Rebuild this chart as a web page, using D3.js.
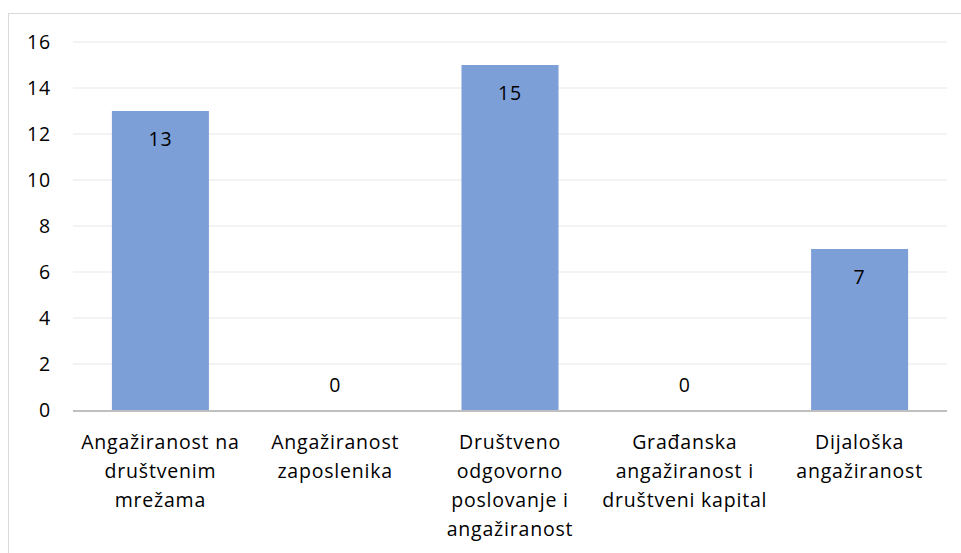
<!DOCTYPE html>
<html>
<head>
<meta charset="utf-8">
<script src="https://cdn.jsdelivr.net/npm/d3@7"></script>
<style>
  body { margin: 0; background: #fff; }
  text { font-family: "Open Sans", Lato, sans-serif; fill: #000; letter-spacing: 0.8px; }
</style>
</head>
<body>
<figure id="chart" style="margin:0"></figure>
<script>
let categories = [
    ['Angažiranost na', 'društvenim', 'mrežama'],
    ['Angažiranost', 'zaposlenika'],
    ['Društveno', 'odgovorno', 'poslovanje i', 'angažiranost'],
    ['Građanska', 'angažiranost i', 'društveni kapital'],
    ['Dijaloška', 'angažiranost']
];
let values = [13, 0, 15, 0, 7];
let yTicks = [0, 2, 4, 6, 8, 10, 12, 14, 16];

let widthFigure = 961;
let heightFigure = 553;
let plotLeft = 73, plotRight = 947, plotTop = 42, plotBottom = 410;

let svg = d3.select('#chart')
    .append('svg')
    .attr('width', widthFigure)
    .attr('height', heightFigure);

// chart frame
svg.append('rect')
    .attr('x', 8.5)
    .attr('y', 13.5)
    .attr('width', 960)
    .attr('height', 600)
    .attr('fill', 'none')
    .attr('stroke', '#d9d9d9')
    .attr('stroke-width', 1);

let xScale = d3.scaleBand()
    .domain(d3.range(categories.length))
    .range([plotLeft, plotRight])
    .paddingInner(0.445)
    .paddingOuter(0.2225);

let yScale = d3.scaleLinear()
    .domain([0, 16])
    .range([plotBottom, plotTop]);

// gridlines
svg.append('g')
    .selectAll('line')
    .data(yTicks.filter(d => d > 0))
    .enter()
    .append('line')
    .attr('x1', plotLeft)
    .attr('x2', plotRight)
    .attr('y1', d => yScale(d))
    .attr('y2', d => yScale(d))
    .attr('stroke', '#efefef')
    .attr('stroke-width', 1.5);

// y tick labels
svg.append('g')
    .selectAll('text')
    .data(yTicks)
    .enter()
    .append('text')
    .attr('x', 51)
    .attr('y', d => yScale(d))
    .attr('dy', '0.36em')
    .attr('text-anchor', 'end')
    .attr('font-size', 19.5)
    .text(d => d);

// bars
svg.append('g')
    .selectAll('rect')
    .data(values)
    .enter()
    .append('rect')
    .attr('x', (d, i) => xScale(i))
    .attr('y', d => yScale(d))
    .attr('width', xScale.bandwidth())
    .attr('height', d => plotBottom - yScale(d))
    .attr('fill', '#7c9fd8');

// x axis line
svg.append('line')
    .attr('x1', plotLeft)
    .attr('x2', plotRight)
    .attr('y1', plotBottom + 1)
    .attr('y2', plotBottom + 1)
    .attr('stroke', '#bfbfbf')
    .attr('stroke-width', 2);

// value labels
svg.append('g')
    .selectAll('text')
    .data(values)
    .enter()
    .append('text')
    .attr('x', (d, i) => xScale(i) + xScale.bandwidth() / 2)
    .attr('y', d => d > 0 ? yScale(d) + 28 : yScale(d) - 25)
    .attr('dy', '0.36em')
    .attr('text-anchor', 'middle')
    .attr('font-size', 19.5)
    .text(d => d);

// category labels
let catG = svg.append('g')
    .selectAll('text')
    .data(categories)
    .enter()
    .append('text')
    .attr('text-anchor', 'middle')
    .attr('font-size', 19.5);

catG.selectAll('tspan')
    .data((d, i) => d.map(line => ({ line, i })))
    .enter()
    .append('tspan')
    .attr('x', d => xScale(d.i) + xScale.bandwidth() / 2)
    .attr('y', (d, j) => 449 + j * 29)
    .text(d => d.line);
</script>
</body>
</html>
